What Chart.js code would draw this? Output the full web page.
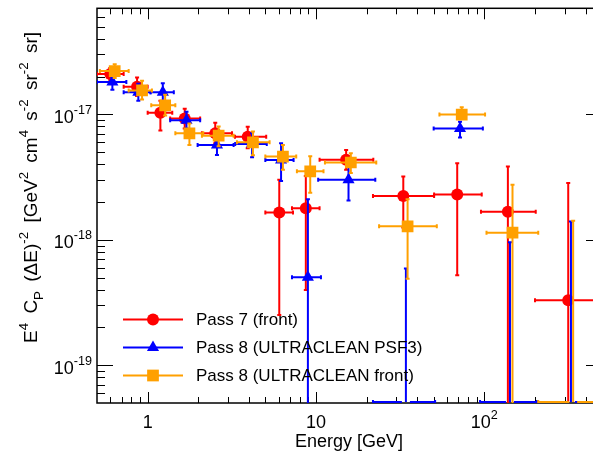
<!DOCTYPE html>
<html>
<head>
<meta charset="utf-8">
<script src="https://cdn.jsdelivr.net/npm/chart.js@4.4.1/dist/chart.umd.min.js"></script>
<style>
  html, body { margin: 0; padding: 0; background: #fff; overflow: hidden; width: 593px; height: 455px; }
  canvas { display: block; }
</style>
</head>
<body>
<canvas id="c" width="620" height="455"></canvas>
<script>
// ---------------- data ----------------
// Pass 7 (front)
const redE    = [0.60, 0.865, 1.19, 1.66, 2.52, 3.93, 6.05, 8.7, 15.1, 33, 69, 138, 315];
const redV    = [2.1e-17, 1.66e-17, 1.03e-17, 9.25e-18, 7.05e-18, 6.63e-18, 1.65e-18, 1.78e-18, 4.34e-18, 2.23e-18, 2.3e-18, 1.67e-18, 3.3e-19];
const redELo  = [0.5, 0.72, 1.0, 1.36, 2.1, 3.3, 5.0, 7.2, 10.5, 21.8, 50.3, 95.5, 200];
const redEHi  = [0.72, 1.0, 1.4, 2.05, 3.17, 5.06, 7.3, 10.5, 21.9, 50.3, 96.5, 202, 500];
const redVLo  = [1.88e-17, 1.40e-17, 7.44e-18, 7.71e-18, 5.87e-18, 5.36e-18, 2.52e-19, 3.97e-19, 3.61e-18, 1.25e-18, 5.21e-19, 0, 0];
const redVHi  = [2.34e-17, 1.97e-17, 1.28e-17, 1.11e-17, 8.55e-18, 7.95e-18, 3.01e-18, 3.22e-18, 5.2e-18, 3.2e-18, 4.08e-18, 3.84e-18, 2.84e-18];

// Pass 8 (ULTRACLEAN PSF3) -- 0 marks a value below the plotted range
const blueE   = [0.617, 0.88, 1.23, 1.70, 2.58, 4.17, 6.2, 8.95, 15.6, 34.2, 71.7, 142, 327];
const blueV   = [1.81e-17, 1.50e-17, 1.50e-17, 8.97e-18, 5.69e-18, 5.8e-18, 4.33e-18, 5.03e-19, 3.01e-18, 0, 7.7e-18, 0, 0];
const blueELo = [0.5, 0.72, 1.04, 1.36, 1.98, 3.31, 5.0, 7.2, 10.3, 21.8, 50, 94.3, 206];
const blueEHi = [0.747, 1.04, 1.43, 2.05, 3.24, 5.1, 7.36, 10.7, 22.5, 51, 98, 206, 500];
const blueVLo = [1.57e-17, 1.28e-17, 1.26e-17, 7.7e-18, 4.75e-18, 4.55e-18, 2.94e-18, 0, 2.06e-18, 0, 6.55e-18, 0, 0];
const blueVHi = [1.98e-17, 1.75e-17, 1.77e-17, 1.05e-17, 6.67e-18, 7.05e-18, 5.87e-18, 2.10e-18, 3.84e-18, 5.9e-19, 8.71e-18, 9.54e-19, 1.40e-18];

// Pass 8 (ULTRACLEAN front)
const orangeE   = [0.637, 0.926, 1.27, 1.77, 2.64, 4.22, 6.36, 9.24, 16.1, 35, 73.4, 147, 337];
const orangeV   = [2.21e-17, 1.55e-17, 1.18e-17, 7.05e-18, 6.75e-18, 5.98e-18, 4.61e-18, 3.51e-18, 4.13e-18, 1.28e-18, 9.95e-18, 1.14e-18, 0];
const orangeELo = [0.52, 0.771, 1.05, 1.46, 2.10, 3.39, 5.0, 7.7, 11.3, 23.7, 54.1, 103, 209];
const orangeEHi = [0.771, 1.06, 1.46, 2.14, 3.24, 5.30, 7.63, 11.08, 22.8, 52.2, 101, 209, 500];
const orangeVLo = [1.95e-17, 1.31e-17, 9.77e-18, 5.69e-18, 5.56e-18, 4.72e-18, 3.61e-18, 2.37e-18, 3.4e-18, 4.9e-19, 9.25e-18, 0, 0];
const orangeVHi = [2.51e-17, 1.85e-17, 1.43e-17, 8.45e-18, 7.99e-18, 7.3e-18, 5.69e-18, 4.64e-18, 4.9e-18, 2.10e-18, 1.14e-17, 2.75e-18, 1.42e-18];

const seriesLabels = ['Pass 7 (front)', 'Pass 8 (ULTRACLEAN PSF3)', 'Pass 8 (ULTRACLEAN front)'];

// axes
const xMin = 0.5, xMax = 500, yMin = 5e-20, yMax = 7e-17;
const xMajorTicks = [1, 10, 100];
const xTickBase   = ['1', '10', '10'];
const xTickExp    = ['', '', '2'];
const yMajorTicks = [1e-19, 1e-18, 1e-17];
const yTickBase   = ['10', '10', '10'];
const yTickExp    = ['-19', '-18', '-17'];
const xTitle = 'Energy [GeV]';
// y title as rich-text pieces: n = normal, sup = superscript, sub = subscript
const yTitle = [
  ['E', 'n'], ['4', 'sup'], [' C', 'n'], ['P', 'sub'], [' (\u0394E)', 'n'], ['-2', 'sup'],
  [' [GeV', 'n'], ['2', 'sup'], [' cm', 'n'], ['4', 'sup'], [' s', 'n'], ['-2', 'sup'],
  [' sr', 'n'], ['-2', 'sup'], [' sr]', 'n']
];

// ---------------- styling ----------------
const FONT = '"Liberation Sans", Arial, Helvetica, sans-serif';
const RED = '#ff0000', BLUE = '#0000ff', ORANGE = '#ffa000';

function minorTicks(lo, hi) {
  const out = [];
  for (let d = Math.floor(Math.log10(lo)); d <= Math.ceil(Math.log10(hi)); d++) {
    for (let m = 2; m <= 9; m++) {
      const v = m * Math.pow(10, d);
      if (v > lo * 1.0001 && v < hi * 0.9999) out.push(v);
    }
  }
  return out;
}

function makeSet(label, color, style, radius, order, E, V, ELo, EHi, VLo, VHi) {
  return {
    label,
    data: E.map((e, i) => ({ x: e, y: V[i] > 0 ? V[i] : null })),
    pointStyle: style,
    pointRadius: radius,
    pointHoverRadius: radius,
    backgroundColor: color,
    borderColor: color,
    borderWidth: 0,
    showLine: false,
    order,
    errors: { e: E, v: V, eLo: ELo, eHi: EHi, vLo: VLo, vHi: VHi }
  };
}

const datasets = [
  makeSet(seriesLabels[0], RED, 'circle', 6, 3, redE, redV, redELo, redEHi, redVLo, redVHi),
  makeSet(seriesLabels[1], BLUE, 'triangle', 7, 2, blueE, blueV, blueELo, blueEHi, blueVLo, blueVHi),
  makeSet(seriesLabels[2], ORANGE, 'rect', 8.3, 1, orangeE, orangeV, orangeELo, orangeEHi, orangeVLo, orangeVHi)
];

// ---------------- helpers ----------------
function seg(ctx, x1, y1, x2, y2) {
  ctx.beginPath(); ctx.moveTo(x1, y1); ctx.lineTo(x2, y2); ctx.stroke();
}

function drawMarker(ctx, style, r, x, y, color) {
  ctx.fillStyle = color;
  ctx.beginPath();
  if (style === 'circle') {
    ctx.arc(x, y, r, 0, Math.PI * 2);
  } else if (style === 'triangle') {
    let a = 0;
    ctx.moveTo(x + Math.sin(a) * r, y - Math.cos(a) * r);
    a += 2 * Math.PI / 3; ctx.lineTo(x + Math.sin(a) * r, y - Math.cos(a) * r);
    a += 2 * Math.PI / 3; ctx.lineTo(x + Math.sin(a) * r, y - Math.cos(a) * r);
    ctx.closePath();
  } else {
    const s = Math.SQRT1_2 * r;
    ctx.rect(x - s, y - s, 2 * s, 2 * s);
  }
  ctx.fill();
}

// rich text: pieces of normal / superscript / subscript text; `pad` adds room after scripts
function richWidth(ctx, pieces, size, pad = 0) {
  let w = 0;
  for (const [t, k] of pieces) {
    ctx.font = `${k === 'n' ? size : size * 0.7}px ${FONT}`;
    w += ctx.measureText(t).width + (k === 'n' ? 0 : pad);
  }
  return w;
}

function drawRich(ctx, pieces, x, y, size, pad = 0) {
  let cx = x;
  for (const [t, k] of pieces) {
    const s = k === 'n' ? size : size * 0.7;
    const dy = k === 'sup' ? -size * 0.5 : (k === 'sub' ? size * 0.3 : 0);
    ctx.font = `${s}px ${FONT}`;
    ctx.fillText(t, cx, y + dy);
    cx += ctx.measureText(t).width + (k === 'n' ? 0 : pad);
  }
}

// ---------------- plugins ----------------
const framePlugin = {
  id: 'frame',
  beforeDatasetsDraw(chart) {
    const { ctx, chartArea: a, scales: { x, y } } = chart;
    ctx.save();
    ctx.strokeStyle = '#000';
    ctx.lineWidth = 1;
    const xp = v => Math.round(x.getPixelForValue(v)) + 0.5;
    const yp = v => Math.round(y.getPixelForValue(v)) + 0.5;
    for (const v of xMajorTicks) { const p = xp(v); seg(ctx, p, a.bottom, p, a.bottom - 11); seg(ctx, p, a.top, p, a.top + 11); }
    for (const v of minorTicks(xMin, xMax)) { const p = xp(v); seg(ctx, p, a.bottom, p, a.bottom - 6); seg(ctx, p, a.top, p, a.top + 6); }
    for (const v of yMajorTicks) { const p = yp(v); seg(ctx, a.left, p, a.left + 16, p); seg(ctx, a.right, p, a.right - 16, p); }
    for (const v of minorTicks(yMin, yMax)) { const p = yp(v); seg(ctx, a.left, p, a.left + 8, p); seg(ctx, a.right, p, a.right - 8, p); }
    ctx.lineWidth = 1.5;
    ctx.strokeRect(a.left, a.top, a.right - a.left, a.bottom - a.top);
    ctx.restore();
  },
  afterDraw(chart) {
    const { ctx, chartArea: a, scales: { x, y } } = chart;
    ctx.save();
    ctx.fillStyle = '#000';
    ctx.textBaseline = 'alphabetic';
    // x tick labels
    xMajorTicks.forEach((v, i) => {
      const pieces = [[xTickBase[i], 'n']];
      if (xTickExp[i]) pieces.push([xTickExp[i], 'sup']);
      const w = richWidth(ctx, pieces, 18);
      drawRich(ctx, pieces, x.getPixelForValue(v) - w / 2, a.bottom + 24.5, 18);
    });
    // y tick labels
    yMajorTicks.forEach((v, i) => {
      const pieces = [[yTickBase[i], 'n'], [yTickExp[i], 'sup']];
      const w = richWidth(ctx, pieces, 18);
      drawRich(ctx, pieces, 92 - w, y.getPixelForValue(v) + 8.6, 18);
    });
    // x title (right aligned)
    ctx.font = `18px ${FONT}`;
    ctx.textAlign = 'right';
    ctx.fillText(xTitle, 403, 447);
    ctx.textAlign = 'left';
    // y title, rotated, ending near the top of the axis
    const tw = richWidth(ctx, yTitle, 19, 4);
    ctx.save();
    ctx.translate(37, 32 + tw);
    ctx.rotate(-Math.PI / 2);
    drawRich(ctx, yTitle, 0, 0, 19, 4);
    ctx.restore();
    // legend
    const rows = [319.5, 347.5, 375.5];
    chart.data.datasets.forEach((ds, i) => {
      const yy = rows[i];
      ctx.strokeStyle = ds.borderColor;
      ctx.lineWidth = 2;
      seg(ctx, 123, yy, 183, yy);
      drawMarker(ctx, ds.pointStyle, ds.pointRadius, 153, yy, ds.backgroundColor);
      ctx.fillStyle = '#000';
      ctx.font = `17px ${FONT}`;
      ctx.textBaseline = 'middle';
      ctx.fillText(ds.label, 196, yy + 1);
    });
    ctx.restore();
  }
};

const errorBarPlugin = {
  id: 'errorBars',
  beforeDatasetDraw(chart, args) {
    const ds = chart.data.datasets[args.index];
    const err = ds.errors;
    if (!err) return;
    const { ctx, chartArea: a, scales: { x, y } } = chart;
    ctx.save();
    ctx.beginPath();
    ctx.rect(a.left, a.top, a.right - a.left, a.bottom - a.top);
    ctx.clip();
    ctx.strokeStyle = ds.borderColor;
    ctx.lineWidth = 2;
    const py = v => (v > 0 ? y.getPixelForValue(v) : a.bottom + 20);
    err.e.forEach((e, i) => {
      const v = err.v[i];
      const below = !(v > 0) || v < yMin;
      const px = x.getPixelForValue(e);
      const pv = below ? a.bottom - 1 : y.getPixelForValue(v);
      const xl = x.getPixelForValue(err.eLo[i]);
      const xh = x.getPixelForValue(err.eHi[i]);
      const yl = below ? pv : py(err.vLo[i]);
      const yh = py(err.vHi[i]);
      const gap = below ? 4 : 0;
      seg(ctx, xl, pv, px - gap, pv);
      seg(ctx, px + gap, pv, xh, pv);
      seg(ctx, px, yh, px, yl);
      seg(ctx, xl, pv - 2, xl, pv + 2);
      seg(ctx, xh, pv - 2, xh, pv + 2);
      seg(ctx, px - 2, yh, px + 2, yh);
      if (!below) seg(ctx, px - 2, yl, px + 2, yl);
    });
    ctx.restore();
  }
};

new Chart(document.getElementById('c'), {
  type: 'scatter',
  data: { datasets },
  options: {
    responsive: false,
    animation: false,
    devicePixelRatio: 1,
    events: [],
    layout: { padding: { left: 97, top: 3, right: 18, bottom: 52 } },
    scales: {
      x: { type: 'logarithmic', min: xMin, max: xMax, display: false },
      y: { type: 'logarithmic', min: yMin, max: yMax, display: false }
    },
    plugins: { legend: { display: false }, tooltip: { enabled: false } }
  },
  plugins: [framePlugin, errorBarPlugin]
});
</script>
</body>
</html>
